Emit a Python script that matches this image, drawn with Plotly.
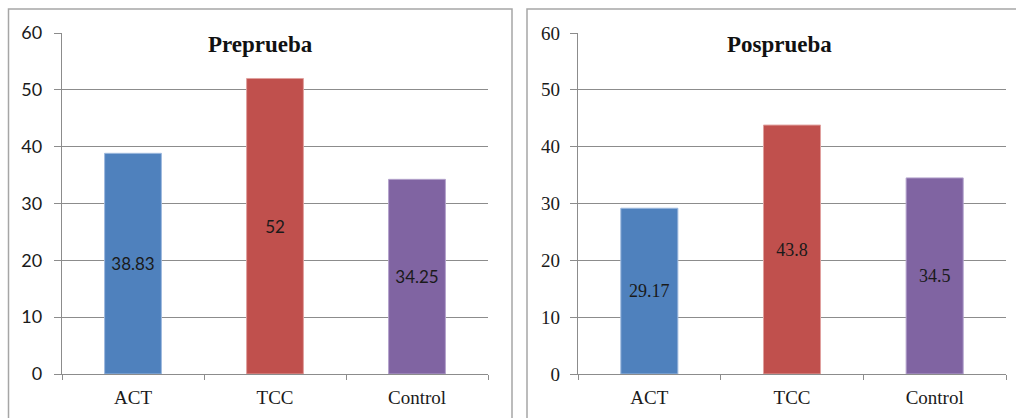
import plotly.graph_objects as go

# Puntuaciones medias por grupo
grupos = ["ACT", "TCC", "Control"]
preprueba = [38.83, 52, 34.25]
posprueba = [29.17, 43.8, 34.5]
colores = ["#4F81BD", "#C0504D", "#8064A2"]
bordes = ["#9DB9DE", "#E0A09E", "#B3A2CC"]
ticks_y = [0, 10, 20, 30, 40, 50, 60]

W, H = 1016, 418
SERIF = "Liberation Serif"
SANS = "Lato"


def px_x(v):
    return v / W


def px_y(v):
    return 1 - v / H


fig = go.Figure()

fig.add_trace(go.Bar(
    x=grupos, y=preprueba, xaxis="x", yaxis="y",
    width=0.4,
    marker=dict(color=colores, line=dict(color=bordes, width=1)),
    text=[f"{v:g}" for v in preprueba],
    textposition="inside", insidetextanchor="middle",
    textfont=dict(family=SANS, size=17, color="#1a1a1a"),
    showlegend=False, hoverinfo="skip",
))
fig.add_trace(go.Bar(
    x=grupos, y=posprueba, xaxis="x2", yaxis="y2",
    width=0.4,
    marker=dict(color=colores, line=dict(color=bordes, width=1)),
    text=[f"{v:g}" for v in posprueba],
    textposition="inside", insidetextanchor="middle",
    textfont=dict(family=SERIF, size=18, color="#1a1a1a"),
    showlegend=False, hoverinfo="skip",
))

grid = "#8c8c8c"
ydom = [px_y(374), px_y(33)]


def eje_y(ancla, fuente, separacion):
    return dict(
        domain=ydom, anchor=ancla, range=[0, 60], automargin=False,
        tickvals=ticks_y, showgrid=True, gridcolor=grid, gridwidth=1.3,
        showline=True, linecolor=grid, linewidth=1.3,
        ticks="outside", ticklen=7, tickcolor=grid, tickwidth=1.3,
        ticklabelstandoff=separacion,
        tickfont=fuente, zeroline=False, fixedrange=True,
    )


def eje_x(dominio, ancla):
    return dict(
        domain=dominio, anchor=ancla, type="category", automargin=False,
        showline=True, linecolor=grid, linewidth=1.3,
        ticks="outside", tickson="boundaries", ticklen=5,
        tickcolor=grid, tickwidth=1.3, ticklabelstandoff=6,
        tickfont=dict(family=SERIF, size=19, color="#1a1a1a"),
        showgrid=False, fixedrange=True,
    )


fig.update_layout(
    width=W, height=H, autosize=False,
    margin=dict(l=0, r=0, t=0, b=0, pad=0, autoexpand=False),
    font=dict(family=SERIF, size=18, color="#1a1a1a"),
    paper_bgcolor="white", plot_bgcolor="white",
    bargap=0.6,
    xaxis=eje_x([px_x(62), px_x(488)], "y"),
    yaxis=eje_y("x", dict(family=SANS, size=18, color="#1a1a1a"), 8),
    xaxis2=eje_x([px_x(578), px_x(1006)], "y2"),
    yaxis2=eje_y("x2", dict(family=SERIF, size=19, color="#1a1a1a"), 6),
    shapes=[
        dict(type="rect", xref="paper", yref="paper",
             x0=px_x(8.5), x1=px_x(512), y0=-0.05, y1=px_y(9),
             line=dict(color="#a6a6a6", width=1.5)),
        dict(type="rect", xref="paper", yref="paper",
             x0=px_x(527), x1=1.05, y0=-0.05, y1=px_y(9),
             line=dict(color="#a6a6a6", width=1.5)),
    ],
    annotations=[
        dict(text="<b>Preprueba</b>", xref="paper", yref="paper",
             x=px_x(260), y=px_y(44), showarrow=False,
             xanchor="center", yanchor="middle",
             font=dict(family=SERIF, size=23, color="#111111")),
        dict(text="<b>Posprueba</b>", xref="paper", yref="paper",
             x=px_x(779), y=px_y(44), showarrow=False,
             xanchor="center", yanchor="middle",
             font=dict(family=SERIF, size=23, color="#111111")),
    ],
)

fig.write_html("out.html")
